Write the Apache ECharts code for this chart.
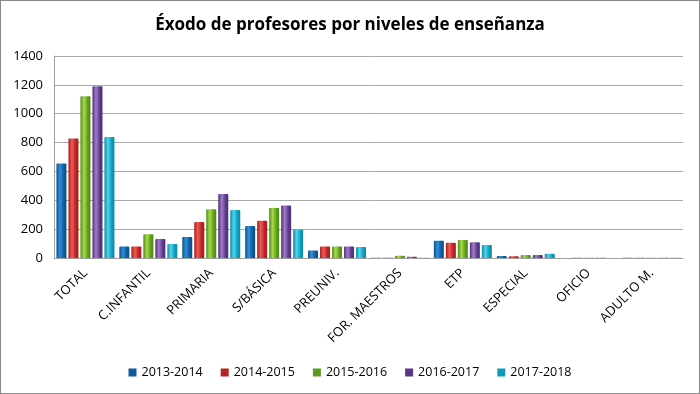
<!DOCTYPE html>
<html><head><meta charset="utf-8">
<script src="https://cdn.jsdelivr.net/npm/echarts@6/dist/echarts.min.js"></script>
<style>
html,body{margin:0;padding:0;background:#fff;}
#c{position:absolute;left:0;top:0;width:698px;height:392px;border:1px solid #8a8a8a;}
</style></head>
<body><div id="c"></div>
<script>
const categories = ['TOTAL','C.INFANTIL','PRIMARIA','S/BÁSICA','PREUNIV.','FOR. MAESTROS','ETP','ESPECIAL','OFICIO','ADULTO M.'];
const seriesNames = ['2013-2014','2014-2015','2015-2016','2016-2017','2017-2018'];
const s2013 = [655, 80, 145, 222, 52, 2, 119, 13, 0, 2];
const s2014 = [828, 80, 250, 259, 80, 2, 105, 12, 2, 2];
const s2015 = [1121, 165, 338, 347, 80, 16, 124, 20, 2, 2];
const s2016 = [1190, 131, 443, 363, 80, 8, 110, 20, 2, 2];
const s2017 = [838, 97, 333, 195, 76, 2, 90, 30, 0, 2];
const yTicks = [0, 200, 400, 600, 800, 1000, 1200, 1400];

const seriesData = [s2013, s2014, s2015, s2016, s2017];
const palette = [
  ['#0c4f8a','#2f8fd8','#0e5a9c'],
  ['#a81c1c','#f05a55','#b82222'],
  ['#4f8a14','#a6dc4a','#5e9a1c'],
  ['#4e2d78','#a27cc8','#5a3888'],
  ['#0d8aa6','#4fd6ee','#0f9ab8']
];
function grad(p){
  return new echarts.graphic.LinearGradient(0,0,1,0,[
    {offset:0,color:p[0]},{offset:0.35,color:p[1]},{offset:0.75,color:p[2]},{offset:1,color:p[0]}
  ]);
}
const chart = echarts.init(document.getElementById('c'));
chart.setOption({
  animation:false,
  title:{text:'Éxodo de profesores por niveles de enseñanza',left:'center',top:11,
    textStyle:{fontFamily:'Open Sans',fontWeight:'bold',fontSize:17,color:'#000'}},
  legend:{bottom:9,left:'center',itemWidth:8,itemHeight:8,itemGap:18,icon:'rect',
    textStyle:{fontFamily:'Open Sans',fontSize:12.5,color:'#000'},
    data:seriesNames.map((n,i)=>({name:n,itemStyle:{color:palette[i][2]}}))},
  grid:{left:53,right:16,top:55,bottom:135,containLabel:false},
  xAxis:{type:'category',data:categories,
    axisLine:{show:true,lineStyle:{color:'#a0a0a0'}},axisTick:{show:false},
    axisLabel:{rotate:45,interval:0,fontFamily:'Open Sans',fontSize:13,color:'#000',margin:13}},
  yAxis:{type:'value',min:0,max:1400,interval:200,
    axisLine:{show:true,lineStyle:{color:'#a0a0a0'}},axisTick:{show:false},
    splitLine:{lineStyle:{color:'#a8a8a8'}},
    axisLabel:{fontFamily:'Open Sans',fontSize:13,color:'#000',margin:11,
      formatter:v=>yTicks.includes(v)?String(v):''}},
  series:seriesNames.map((n,i)=>({
    name:n,type:'bar',data:seriesData[i],barWidth:10,barGap:'20%',
    itemStyle:{color:grad(palette[i]),borderRadius:[1,1,0,0]}
  }))
});
</script></body></html>
